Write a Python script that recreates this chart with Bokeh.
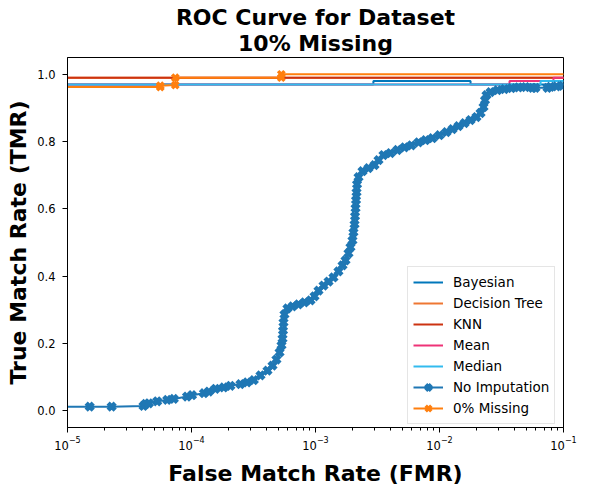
from bokeh.plotting import figure
from bokeh.models import (Range1d, FixedTicker, Title, Legend, LegendItem,
                          NumeralTickFormatter, LogTickFormatter)
from bokeh.embed import file_html
from bokeh.resources import INLINE

# ---------------- data ----------------
title_lines = ["ROC Curve for Dataset", "10% Missing"]
x_label = "False Match Rate (FMR)"
y_label = "True Match Rate (TMR)"
x_major_ticks = [1e-5, 1e-4, 1e-3, 1e-2, 1e-1]
y_major_ticks = [0.0, 0.2, 0.4, 0.6, 0.8, 1.0]

bayes_fmr = [1e-6, 2.93e-3, 2.93e-3, 1.78e-2, 1.78e-2, 1.0]
bayes_tmr = [0.970, 0.970, 0.980, 0.980, 0.970, 0.970]

dtree_fmr = [1e-6, 1.0]
dtree_tmr = [0.990, 0.990]

knn_fmr = [1e-6, 1.0]
knn_tmr = [0.990, 0.990]

mean_fmr = [1e-6, 3.67e-2, 3.67e-2, 8.3e-2, 8.3e-2, 1.0]
mean_tmr = [0.970, 0.970, 0.980, 0.980, 0.990, 0.990]

median_fmr = [1e-6, 6.53e-2, 6.53e-2, 1.0]
median_tmr = [0.970, 0.970, 0.980, 0.980]

noimp_fmr = [1e-6, 1.51e-5, 2.27e-5, 4.1e-5, 4.26e-5, 4.53e-5, 5.29e-5, 6.37e-5,
             7.2e-5, 9.2e-5, 1.01e-4, 1.26e-4, 1.38e-4, 1.56e-4, 1.82e-4, 2.06e-4,
             2.48e-4, 2.81e-4, 3.18e-4, 3.60e-4, 4.10e-4, 4.50e-4, 4.84e-4, 5.13e-4,
             5.32e-4, 5.42e-4, 5.47e-4, 5.52e-4, 5.62e-4, 5.94e-4, 6.53e-4, 7.29e-4,
             8.15e-4, 9.12e-4, 9.82e-4, 1.057e-3, 1.161e-3, 1.274e-3, 1.396e-3,
             1.531e-3, 1.652e-3, 1.746e-3, 1.845e-3, 1.914e-3, 1.986e-3, 2.023e-3,
             2.065e-3, 2.084e-3, 2.104e-3, 2.123e-3, 2.143e-3, 2.163e-3, 2.223e-3,
             2.393e-3, 2.673e-3, 2.992e-3, 3.221e-3, 3.532e-3, 4.027e-3, 4.581e-3,
             5.224e-3, 5.943e-3, 6.776e-3, 7.709e-3, 8.790e-3, 1.0e-2, 1.138e-2,
             1.274e-2, 1.422e-2, 1.592e-2, 1.778e-2, 1.986e-2, 2.143e-2, 2.265e-2,
             2.328e-2, 2.393e-2, 2.576e-2, 2.938e-2, 3.342e-2, 3.811e-2, 4.335e-2,
             4.943e-2, 5.623e-2, 5.943e-2, 7.430e-2, 7.852e-2, 8.79e-2, 9.82e-2]
noimp_tmr = [0.012, 0.012, 0.012, 0.014, 0.020, 0.022, 0.028, 0.032,
             0.035, 0.042, 0.046, 0.052, 0.057, 0.065, 0.069, 0.074,
             0.079, 0.084, 0.091, 0.105, 0.119, 0.134, 0.152, 0.173,
             0.194, 0.214, 0.238, 0.262, 0.286, 0.304, 0.310, 0.316,
             0.322, 0.328, 0.340, 0.357, 0.372, 0.384, 0.396,
             0.414, 0.432, 0.447, 0.468, 0.486, 0.506, 0.530,
             0.554, 0.578, 0.602, 0.626, 0.649, 0.673, 0.694,
             0.712, 0.721, 0.730, 0.745, 0.760, 0.766, 0.775,
             0.783, 0.789, 0.798, 0.804, 0.810, 0.819, 0.828,
             0.837, 0.846, 0.855, 0.864, 0.873, 0.885, 0.903,
             0.923, 0.938, 0.947, 0.953, 0.956, 0.959, 0.961,
             0.962, 0.960, 0.960, 0.960, 0.963, 0.964, 0.966]

full_fmr = [1e-6, 5.6e-5, 5.6e-5, 7.4e-5, 7.4e-5, 5.3e-4, 5.3e-4, 1.0]
full_tmr = [0.962, 0.962, 0.966, 0.968, 0.990, 0.990, 1.000, 1.000]

# ---------------- figure ----------------
FW, FH = 496, 370
p = figure(frame_width=FW, frame_height=FH, x_axis_type="log",
           x_range=Range1d(1e-5, 1e-1), y_range=Range1d(-0.05, 1.05),
           output_backend="svg", toolbar_location=None,
           min_border_left=67, min_border_right=18, min_border_top=57,
           min_border_bottom=56, background_fill_color="white",
           border_fill_color="white")
p.grid.visible = False
p.outline_line_color = "black"
p.outline_line_width = 1
p.outline_line_alpha = 1

FONT = "DejaVu Sans"

minor = []
for t in x_major_ticks[:-1]:
    for k in range(2, 10):
        minor.append(t * k)
p.xaxis.ticker = FixedTicker(ticks=x_major_ticks, minor_ticks=minor)
p.xaxis.formatter = LogTickFormatter()
p.yaxis.ticker = FixedTicker(ticks=y_major_ticks)
p.yaxis.formatter = NumeralTickFormatter(format="0.0")

for ax in (p.xaxis[0], p.yaxis[0]):
    ax.axis_line_color = "black"
    ax.major_tick_line_color = "black"
    ax.minor_tick_line_color = "black"
    ax.major_tick_in = 0
    ax.major_tick_out = 5
    ax.minor_tick_in = 0
    ax.minor_tick_out = 3
    ax.major_label_text_font = FONT
    ax.major_label_text_font_size = "11.5px"
    ax.major_label_text_color = "black"
    ax.axis_label_text_font = FONT
    ax.axis_label_text_font_size = "22px"
    ax.axis_label_text_font_style = "bold"
    ax.axis_label_text_color = "black"
p.yaxis.minor_tick_line_color = None
p.xaxis.axis_label = x_label
p.yaxis.axis_label = y_label
p.xaxis.major_label_standoff = 3
p.xaxis.axis_label_standoff = 8
p.yaxis.major_label_standoff = 7
p.yaxis.axis_label_standoff = 3

# two-line title: subtitle added first (closest to frame), main line on top
p.add_layout(Title(text=title_lines[1], align="center", text_font=FONT,
                   text_font_size="22px", text_font_style="bold",
                   text_color="black", standoff=3, offset=0), "above")
p.add_layout(Title(text=title_lines[0], align="center", text_font=FONT,
                   text_font_size="22px", text_font_style="bold",
                   text_color="black", standoff=-4, offset=0), "above")

LW = 2
r_bayes = p.line(bayes_fmr, bayes_tmr, line_color="#0077BB", line_width=LW)
r_dtree = p.line(dtree_fmr, dtree_tmr, line_color="#EE7733", line_width=LW)
r_knn = p.line(knn_fmr, knn_tmr, line_color="#CC3311", line_width=LW)
r_mean = p.line(mean_fmr, mean_tmr, line_color="#EE3377", line_width=LW)
r_median = p.line(median_fmr, median_tmr, line_color="#33BBEE", line_width=LW)
r_noimp_l = p.line(noimp_fmr, noimp_tmr, line_color="#1f77b4", line_width=LW)
r_noimp_m = p.scatter(noimp_fmr, noimp_tmr, marker="x", size=10, line_width=4.5,
                      line_color="#1f77b4")
r_full_l = p.line(full_fmr, full_tmr, line_color="#ff7f0e", line_width=LW)
r_full_m = p.scatter(full_fmr, full_tmr, marker="x", size=9, line_width=3.5,
                     line_color="#ff7f0e")

legend = Legend(items=[
    LegendItem(label="Bayesian", renderers=[r_bayes]),
    LegendItem(label="Decision Tree", renderers=[r_dtree]),
    LegendItem(label="KNN", renderers=[r_knn]),
    LegendItem(label="Mean", renderers=[r_mean]),
    LegendItem(label="Median", renderers=[r_median]),
    LegendItem(label="No Imputation", renderers=[r_noimp_l, r_noimp_m]),
    LegendItem(label="0% Missing", renderers=[r_full_l, r_full_m]),
], location=(340, 3))
legend.label_text_font = FONT
legend.label_text_font_size = "13.5px"
legend.label_text_color = "black"
legend.glyph_width = 30
legend.glyph_height = 20
legend.label_height = 20
legend.spacing = 1
legend.padding = 5
legend.margin = 0
legend.label_standoff = 10
legend.border_line_color = "#cccccc"
legend.border_line_width = 1
legend.background_fill_color = "white"
legend.background_fill_alpha = 0.8
p.add_layout(legend)

open("out.html", "w").write(file_html(p, INLINE))
